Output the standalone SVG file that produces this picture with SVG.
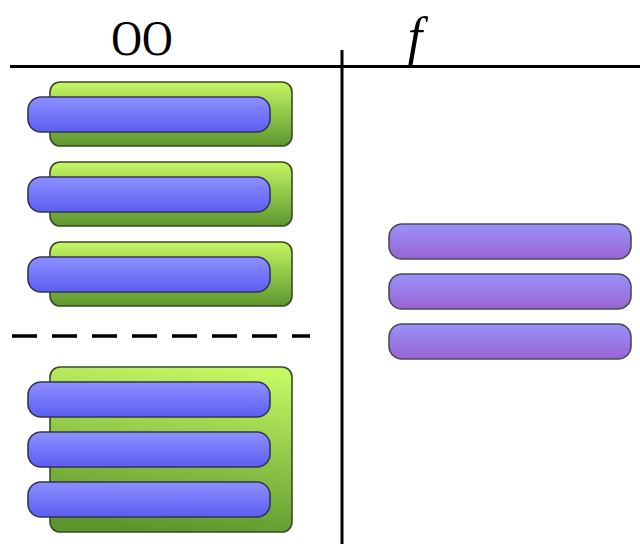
<svg xmlns="http://www.w3.org/2000/svg" width="640" height="544" viewBox="0 0 640 544">
  <defs>
    <linearGradient id="gGreen" x1="0" y1="0" x2="0" y2="1">
      <stop offset="0" stop-color="#c4f762"/>
      <stop offset="1" stop-color="#5c962e"/>
    </linearGradient>
    <linearGradient id="gGreenBig" x1="0.7" y1="0" x2="0.5" y2="1">
      <stop offset="0" stop-color="#c4f762"/>
      <stop offset="1" stop-color="#5c962e"/>
    </linearGradient>
    <linearGradient id="gBlue" x1="0" y1="0" x2="0" y2="1">
      <stop offset="0" stop-color="#8d90ff"/>
      <stop offset="1" stop-color="#5b5ef2"/>
    </linearGradient>
    <linearGradient id="gPurple" x1="0" y1="0" x2="0" y2="1">
      <stop offset="0" stop-color="#9a92fa"/>
      <stop offset="1" stop-color="#9864d2"/>
    </linearGradient>
  </defs>
  <style>
    .rule { stroke: #000; stroke-width: 3; fill: none; }
    .dash { stroke: #000; stroke-width: 3.5; stroke-dasharray: 25 15; fill: none; }
    .green { fill: url(#gGreen); stroke: #3c4a2a; stroke-width: 1.6; }
    .greenBig { fill: url(#gGreenBig); stroke: #3c4a2a; stroke-width: 1.6; }
    .blue { fill: url(#gBlue); stroke: #333356; stroke-width: 1.6; }
    .purple { fill: url(#gPurple); stroke: #4a4a55; stroke-width: 1.6; }
    .head { font-family: "Liberation Serif", "DejaVu Serif", serif; fill: #000; text-anchor: middle; }
  </style>

  <rect width="640" height="544" fill="#fff"/>

  <!-- table rules -->
  <g id="rules">
    <line class="rule" x1="10" y1="66.5" x2="640" y2="66.5"/>
    <line class="rule" x1="342" y1="50" x2="342" y2="544"/>
    <line class="dash" x1="12" y1="336" x2="310" y2="336"/>
  </g>

  <!-- column headings -->
  <g id="headings">
    <text class="head" x="0" y="0" font-size="50" transform="translate(142 55) scale(0.85 1)">OO</text>
    <text class="head" x="415" y="54" font-size="52" font-style="italic">f</text>
  </g>

  <!-- object-oriented: each object wraps one operation -->
  <g id="oo-obj1">
    <rect class="green" x="50" y="82" width="242" height="64" rx="10"/>
    <rect class="blue" x="28" y="97" width="242" height="35" rx="13"/>
  </g>
  <g id="oo-obj2">
    <rect class="green" x="50" y="162" width="242" height="64" rx="10"/>
    <rect class="blue" x="28" y="177" width="242" height="35" rx="13"/>
  </g>
  <g id="oo-obj3">
    <rect class="green" x="50" y="242" width="242" height="64" rx="10"/>
    <rect class="blue" x="28" y="257" width="242" height="35" rx="13"/>
  </g>

  <!-- object-oriented: one object with several operations -->
  <g id="oo-obj4">
    <rect class="greenBig" x="50" y="367" width="242" height="165" rx="10"/>
    <rect class="blue" x="28" y="382" width="242" height="35" rx="13"/>
    <rect class="blue" x="28" y="432" width="242" height="35" rx="13"/>
    <rect class="blue" x="28" y="482" width="242" height="35" rx="13"/>
  </g>

  <!-- functional: standalone functions -->
  <g id="fn1">
    <rect class="purple" x="389" y="224" width="242" height="35" rx="13"/>
  </g>
  <g id="fn2">
    <rect class="purple" x="389" y="274" width="242" height="35" rx="13"/>
  </g>
  <g id="fn3">
    <rect class="purple" x="389" y="324" width="242" height="35" rx="13"/>
  </g>
</svg>
